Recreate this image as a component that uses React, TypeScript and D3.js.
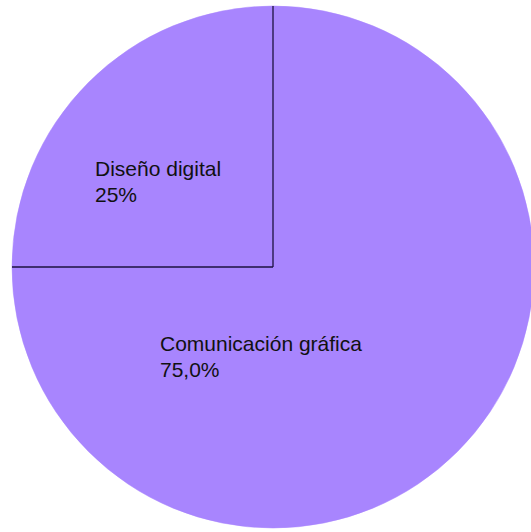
import { useMemo } from "react";
import * as d3 from "d3";

const categories = ["Comunicación gráfica", "Diseño digital"];
const values = [75, 25];
const valueLabels = ["75,0%", "25%"];

const WIDTH = 531;
const HEIGHT = 532;
const CX = 273;
const CY = 267;
const RADIUS = 261;
const FILL = "#a885fe";
const LINE = "#1c1240";

// label anchor points (left aligned text blocks)
const labelPos: Record<string, [number, number]> = {
  "Comunicación gráfica": [160, 351],
  "Diseño digital": [95, 176],
};

export default function App() {
  const arcs = useMemo(() => {
    const pie = d3
      .pie<number>()
      .sort(null)
      .value((d) => d);
    return pie(values);
  }, []);

  const arcGen = d3.arc<d3.PieArcDatum<number>>().innerRadius(0).outerRadius(RADIUS);

  return (
    <svg
      width={WIDTH}
      height={HEIGHT}
      style={{ position: "absolute", left: 0, top: 0, display: "block" }}
    >
      <rect width={WIDTH} height={HEIGHT} fill="white" />
      <g transform={`translate(${CX}, ${CY})`}>
        {arcs.map((a, i) => (
          <path key={i} d={arcGen(a) || ""} fill={FILL} stroke={FILL} strokeWidth={0.5} />
        ))}
        {arcs.map((a, i) => {
          const ang = a.startAngle - Math.PI / 2;
          return (
            <line
              key={"l" + i}
              x1={0}
              y1={0}
              x2={RADIUS * Math.cos(ang)}
              y2={RADIUS * Math.sin(ang)}
              stroke={LINE}
              strokeWidth={1.3}
            />
          );
        })}
      </g>
      {categories.map((c, i) => {
        const [x, y] = labelPos[c];
        return (
          <text
            key={c}
            x={x}
            y={y}
            fontFamily="'Liberation Sans', Arial, sans-serif"
            fontSize={21}
            fill="#111"
          >
            <tspan x={x}>{c}</tspan>
            <tspan x={x} dy={26}>
              {valueLabels[i]}
            </tspan>
          </text>
        );
      })}
    </svg>
  );
}
